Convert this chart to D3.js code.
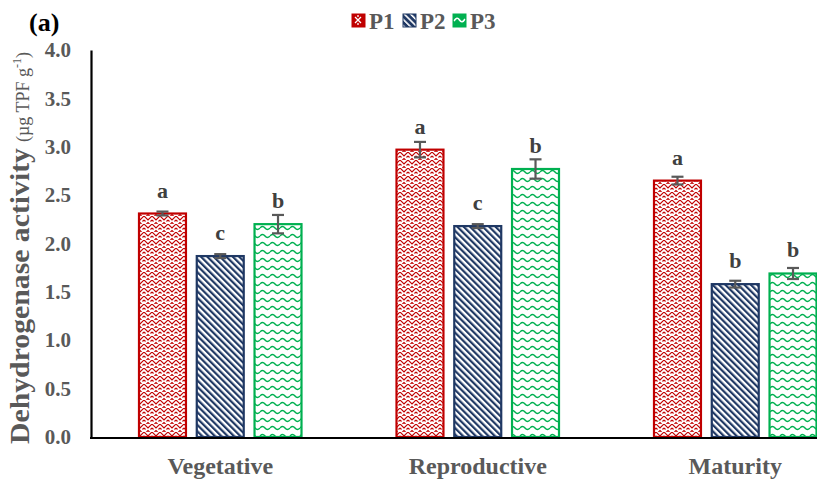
<!DOCTYPE html>
<html>
<head>
<meta charset="utf-8">
<script src="https://cdn.jsdelivr.net/npm/d3@7"></script>
<style>
  html, body { margin: 0; padding: 0; background: #fff; }
  svg { display: block; }
</style>
</head>
<body>
<svg id="chart" width="817" height="483"></svg>
<script>
// Growth stages and treatments
const stages = ["Vegetative", "Reproductive", "Maturity"];
const treatments = ["P1", "P2", "P3"];

// Mean dehydrogenase activity per treatment, one value per stage
const p1Values = [2.31, 2.97, 2.65];
const p2Values = [1.87, 2.18, 1.58];
const p3Values = [2.20, 2.77, 1.69];

// Standard error per treatment, one value per stage
const p1Errors = [0.02, 0.08, 0.04];
const p2Errors = [0.02, 0.02, 0.035];
const p3Errors = [0.095, 0.10, 0.057];

// Significance letters
const p1Letters = ["a", "a", "a"];
const p2Letters = ["c", "c", "b"];
const p3Letters = ["b", "b", "b"];

const yTicks = [0, 0.5, 1.0, 1.5, 2.0, 2.5, 3.0, 3.5, 4.0];

const seriesValues = [p1Values, p2Values, p3Values];
const seriesErrors = [p1Errors, p2Errors, p3Errors];
const seriesLetters = [p1Letters, p2Letters, p3Letters];

const rows = [];
stages.forEach((s, i) => {
  treatments.forEach((t, j) => {
    rows.push({ stage: s, treatment: t, value: seriesValues[j][i], err: seriesErrors[j][i], letter: seriesLetters[j][i] });
  });
});

const svg = d3.select("#chart");
const serif = "'Liberation Serif', 'Times New Roman', serif";
const grey = "#595959";

const colors = { P1: "#c00000", P2: "#1f3864", P3: "#00b050" };

// Fill patterns for the bars
const defs = svg.append("defs");

// P1: weave of zigzag steps
const p1 = defs.append("pattern").attr("id", "pat-P1")
  .attr("patternUnits", "userSpaceOnUse").attr("width", 8).attr("height", 8);
p1.append("rect").attr("width", 8).attr("height", 8).attr("fill", "#fff");
p1.append("path")
  .attr("d", "M0,0 L4,4 L8,0 M0,4 L1.5,5.5 M6.5,5.5 L8,4 M2.5,8 L4,6.5 L5.5,8")
  .attr("stroke", colors.P1).attr("stroke-width", 1.2).attr("fill", "none");

// P2: dense diagonal stripes
const p2 = defs.append("pattern").attr("id", "pat-P2")
  .attr("patternUnits", "userSpaceOnUse").attr("width", 4.5).attr("height", 4.5)
  .attr("patternTransform", "rotate(-45)");
p2.append("rect").attr("width", 4.5).attr("height", 4.5).attr("fill", "#fff");
p2.append("rect").attr("x", 0).attr("y", 0).attr("width", 2.2).attr("height", 4.5).attr("fill", colors.P2);

// P3: horizontal waves
const p3 = defs.append("pattern").attr("id", "pat-P3")
  .attr("patternUnits", "userSpaceOnUse").attr("width", 10).attr("height", 8);
p3.append("rect").attr("width", 10).attr("height", 8).attr("fill", "#fff");
p3.append("path")
  .attr("d", "M0,4 Q2.5,1 5,4 T10,4")
  .attr("stroke", colors.P3).attr("stroke-width", 1.5).attr("fill", "none");

// Legend swatch patterns (coloured ground, white marks)
const l1 = defs.append("pattern").attr("id", "leg-P1")
  .attr("patternUnits", "userSpaceOnUse").attr("width", 12).attr("height", 12);
l1.append("rect").attr("width", 12).attr("height", 12).attr("fill", colors.P1);
l1.append("path").attr("d", "M3,3 L9,9 M9,3 L3,9 M6,1 L6,3 M6,9 L6,11")
  .attr("stroke", "#fff").attr("stroke-width", 1.3);
const l2 = defs.append("pattern").attr("id", "leg-P2")
  .attr("patternUnits", "userSpaceOnUse").attr("width", 4.5).attr("height", 4.5)
  .attr("patternTransform", "rotate(-45)");
l2.append("rect").attr("width", 4.5).attr("height", 4.5).attr("fill", colors.P2);
l2.append("rect").attr("width", 1.6).attr("height", 4.5).attr("fill", "#fff");
const l3 = defs.append("pattern").attr("id", "leg-P3")
  .attr("patternUnits", "userSpaceOnUse").attr("width", 13).attr("height", 13);
l3.append("rect").attr("width", 13).attr("height", 13).attr("fill", colors.P3);
l3.append("path").attr("d", "M1,7 Q4,2 6.5,6 T12,5")
  .attr("stroke", "#fff").attr("stroke-width", 1.6).attr("fill", "none");

// Scales
const plot = { left: 91, right: 864, top: 50, bottom: 437 };
const groupWidth = 162.5;
const x0 = d3.scaleBand().domain(stages).range([plot.left + 0.5, plot.right]).padding(0);
const x1 = d3.scaleBand().domain(treatments).range([0, groupWidth]).paddingInner(0.187).paddingOuter(0);
const y = d3.scaleLinear().domain([0, 4]).range([plot.bottom, plot.top]);

const groupOffset = (x0.bandwidth() - groupWidth) / 2;
const barX = d => x0(d.stage) + groupOffset + x1(d.treatment);
const cx = d => barX(d) + x1.bandwidth() / 2;

// Bars
const g = svg.append("g");
g.selectAll("rect.bar").data(rows).join("rect")
  .attr("class", "bar")
  .attr("x", barX)
  .attr("y", d => y(d.value))
  .attr("width", x1.bandwidth())
  .attr("height", d => y(0) - y(d.value))
  .attr("fill", d => `url(#pat-${d.treatment})`)
  .attr("stroke", d => colors[d.treatment])
  .attr("stroke-width", 2.2);

// Error bars
const eb = g.selectAll("g.err").data(rows).join("g").attr("class", "err")
  .attr("stroke", "#595959").attr("stroke-width", 2.2);
eb.append("line").attr("x1", cx).attr("x2", cx)
  .attr("y1", d => y(d.value + d.err)).attr("y2", d => y(d.value - d.err));
eb.append("line").attr("x1", d => cx(d) - 6).attr("x2", d => cx(d) + 6)
  .attr("y1", d => y(d.value + d.err)).attr("y2", d => y(d.value + d.err));
eb.append("line").attr("x1", d => cx(d) - 6).attr("x2", d => cx(d) + 6)
  .attr("y1", d => y(d.value - d.err)).attr("y2", d => y(d.value - d.err));

// Significance letters
g.selectAll("text.letter").data(rows).join("text")
  .attr("class", "letter")
  .attr("x", cx)
  .attr("y", d => y(d.value) - 16)
  .attr("text-anchor", "middle")
  .attr("font-family", serif).attr("font-weight", "bold").attr("font-size", 22)
  .attr("fill", "#404040")
  .text(d => d.letter);

// Y axis
const yAxis = d3.axisLeft(y).tickValues(yTicks).tickFormat(d3.format(".1f")).tickSize(0).tickPadding(20);
const ya = svg.append("g").attr("transform", `translate(${plot.left},0)`).call(yAxis);
ya.select(".domain").attr("stroke", "#000").attr("stroke-width", 2.2);
ya.selectAll("text").attr("font-family", serif).attr("font-weight", "bold")
  .attr("font-size", 21).attr("fill", grey);

// X axis
const xAxis = d3.axisBottom(x0).tickSize(0).tickPadding(19);
const xa = svg.append("g").attr("transform", `translate(0,${plot.bottom + 1})`).call(xAxis);
xa.select(".domain").attr("stroke", "#000").attr("stroke-width", 2.2)
  .attr("d", `M${plot.left - 1},0H${plot.right}`);
xa.selectAll("text").attr("font-family", serif).attr("font-weight", "bold")
  .attr("font-size", 24).attr("fill", grey);

// Y axis title: quantity, then unit
const titleBase = 444;
const titleLen = 296;
svg.append("text")
  .attr("transform", `translate(29,${titleBase}) rotate(-90)`)
  .attr("text-anchor", "start")
  .attr("font-family", serif).attr("font-weight", "bold").attr("font-size", 27)
  .attr("fill", grey)
  .attr("textLength", titleLen).attr("lengthAdjust", "spacingAndGlyphs")
  .text("Dehydrogenase activity");
const unit = svg.append("text")
  .attr("transform", `translate(29,${titleBase - titleLen - 6}) rotate(-90)`)
  .attr("text-anchor", "start")
  .attr("font-family", serif).attr("font-size", 18).attr("fill", grey);
unit.append("tspan").text("(µg TPF g");
unit.append("tspan").attr("font-size", 12).attr("dy", -8).text("-1");
unit.append("tspan").attr("dy", 8).text(")");

// Panel label
svg.append("text").attr("x", 29).attr("y", 31)
  .attr("font-family", serif).attr("font-weight", "bold").attr("font-size", 26)
  .attr("fill", "#000").text("(a)");

// Legend
const legend = svg.append("g").attr("transform", "translate(352,14)");
const lx = [0, 51, 101];
treatments.forEach((t, i) => {
  const item = legend.append("g").attr("transform", `translate(${lx[i]},0)`);
  item.append("rect").attr("x", 0).attr("y", 0).attr("width", 13).attr("height", 13)
    .attr("fill", `url(#leg-${t})`).attr("stroke", colors[t]).attr("stroke-width", 1);
  item.append("text").attr("x", 17).attr("y", 15)
    .attr("font-family", serif).attr("font-weight", "bold").attr("font-size", 23)
    .attr("fill", grey).text(t);
});
</script>
</body>
</html>
